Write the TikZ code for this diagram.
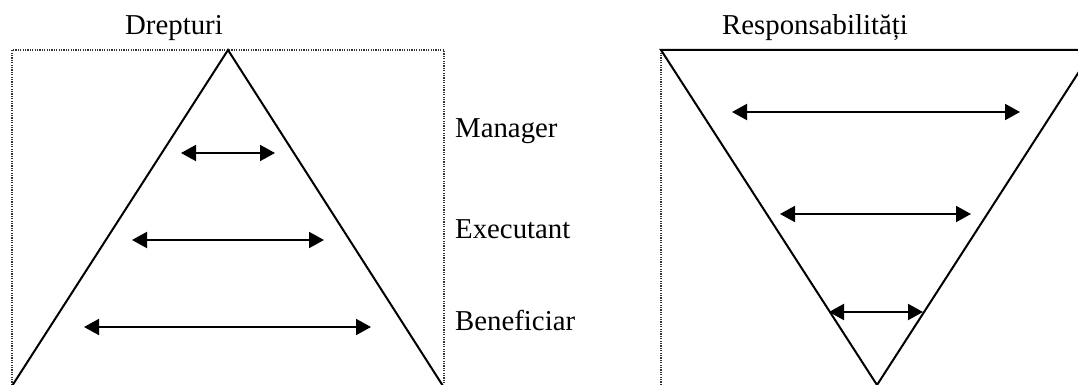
\documentclass[tikz,border=0pt]{standalone}
\usepackage{fontspec}
\setmainfont{Liberation Serif}
\usetikzlibrary{arrows.meta}
\begin{document}
\begin{tikzpicture}[x=1pt,y=-1pt,
  frame/.style={draw=black!80,line width=1.2pt,dash pattern=on 1.2pt off 1.2pt},
  tri/.style={draw=black,line width=2pt,line join=miter},
  span/.style={draw=black,line width=2pt,{Triangle[length=15pt,width=16pt]}-{Triangle[length=15pt,width=16pt]}},
  lbl/.style={anchor=base west,inner sep=0pt,font=\fontsize{28.8}{30}\selectfont}]
\useasboundingbox (0,0) rectangle (1078,385);
\clip (0,0) rectangle (1078,385);
% left panel
\draw[frame] (12,385) -- (12,50) -- (444,50) -- (444,385);
\coordinate (la) at (228,50);
\coordinate (lb) at (12,386);
\coordinate (lc) at (443,386);
\draw[tri] (lb) -- (la) -- (lc);
\node[lbl] (t1) at (125,35) {Drepturi};
\coordinate (m1) at (181,153); \coordinate (m2) at (275,153);
\coordinate (e1) at (132,240); \coordinate (e2) at (324,240);
\coordinate (b1) at (84,327);  \coordinate (b2) at (371,327);
\draw[span] (m1) -- (m2);
\draw[span] (e1) -- (e2);
\draw[span] (b1) -- (b2);
\node[lbl] (man) at (455,137) {Manager};
\node[lbl] (exe) at (455,238) {Executant};
\node[lbl] (ben) at (455,330) {Beneficiar};
% right panel
\draw[frame] (661,385) -- (661,50) -- (1078,50);
\coordinate (ra) at (661,50);
\coordinate (rb) at (877,385);
\coordinate (rc) at (1093,50);
\draw[tri] (rc) -- (ra) -- (rb) -- (rc);
\node[lbl] (t2) at (722,35) {Responsabilități};
\coordinate (r11) at (732,112); \coordinate (r12) at (1020,112);
\coordinate (r21) at (780,214); \coordinate (r22) at (971,214);
\coordinate (r31) at (829,312); \coordinate (r32) at (923,312);
\draw[span] (r11) -- (r12);
\draw[span] (r21) -- (r22);
\draw[span] (r31) -- (r32);
\end{tikzpicture}
\end{document}
